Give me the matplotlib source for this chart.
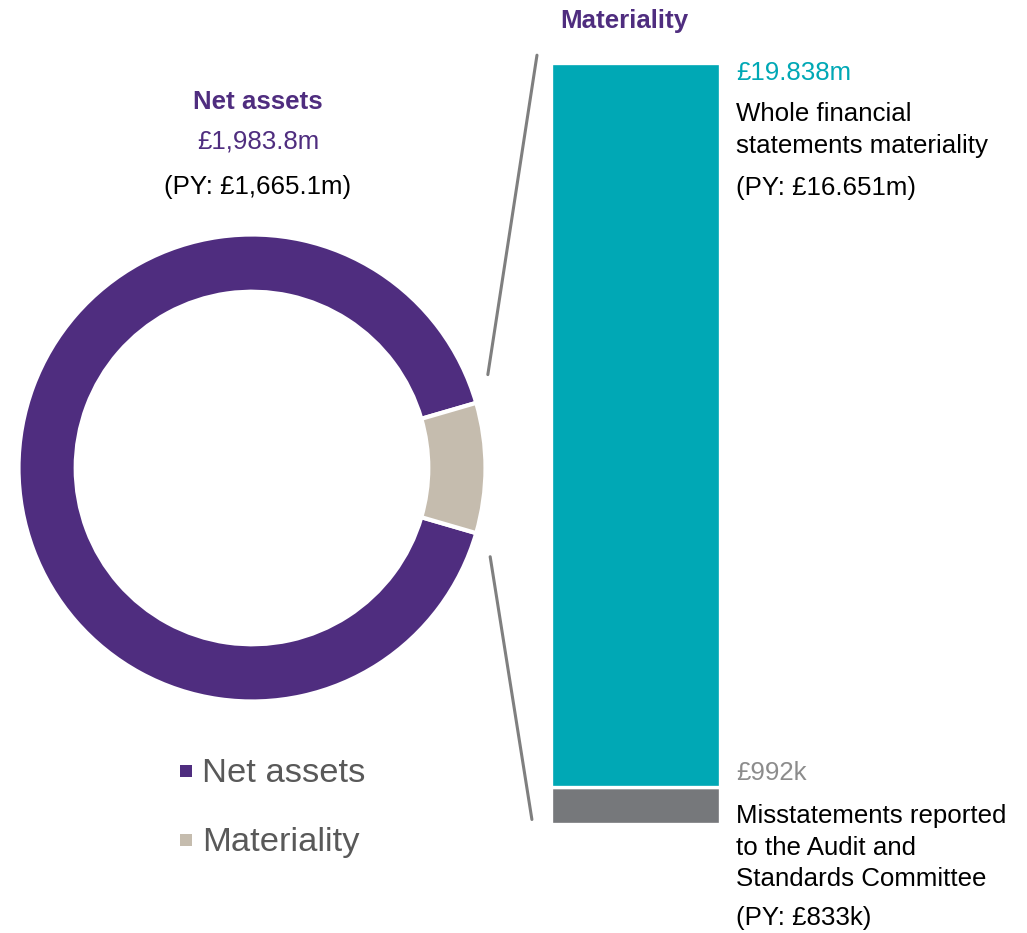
import matplotlib
matplotlib.use("Agg")
import matplotlib.pyplot as plt
from matplotlib.patches import ConnectionPatch, Rectangle

plt.rcParams['font.family'] = ['Liberation Sans', 'DejaVu Sans']

# ---- data ----
donut_labels = ["Net assets", "Materiality"]
donut_shares = [0.91, 0.09]          # visual share of the ring
bar_labels = ["Misstatements reported", "Whole financial statements materiality"]
bar_values = [0.992, 19.838]         # £m
net_assets_text = "£1,983.8m"
net_assets_py = "(PY: £1,665.1m)"
wfsm_text = "£19.838m"
wfsm_py = "(PY: £16.651m)"
mis_text = "£992k"
mis_py = "(PY: £833k)"

PURPLE = "#4F2D7F"
BEIGE = "#C5BCAE"
TEAL = "#00A8B5"
DGRAY = "#76787B"
LGRAY = "#7F7F7F"

W, H = 1027, 933
fig = plt.figure(figsize=(W / 100, H / 100), dpi=100)

def fx(px):
    return px / W

def fy(py):
    return 1 - py / H

# ---- donut ----
cx, cy, R = 252, 468, 233.5
axd = fig.add_axes([fx(cx - R), fy(cy + R), 2 * R / W, 2 * R / H])
axd.pie(donut_shares, colors=[PURPLE, BEIGE], startangle=16.2, counterclock=True,
        radius=1.0, wedgeprops=dict(width=0.245, edgecolor="white", linewidth=3))
axd.set_xlim(-1, 1)
axd.set_ylim(-1, 1)
axd.set_aspect("auto")
axd.axis("off")

# ---- stacked bar ----
bx0, bx1, by_bot, by_top = 550.5, 719.5, 823.5, 62.5
axb = fig.add_axes([fx(bx0), fy(by_bot), (bx1 - bx0) / W, (by_bot - by_top) / H])
total = sum(bar_values)
axb.bar([0], [bar_values[0]], width=1.0, color=DGRAY, edgecolor="white", linewidth=2.4)
axb.bar([0], [bar_values[1]], bottom=[bar_values[0]], width=1.0, color=TEAL,
        edgecolor="white", linewidth=2.4)
axb.set_xlim(-0.5, 0.5)
axb.set_ylim(0, total)
axb.axis("off")

# ---- connector lines ----
for xyA, xyB in [((1.01, 0.40), (-0.58, total + 0.2)),
                 ((1.02, -0.38), (-0.61, 0.11))]:
    con = ConnectionPatch(xyA=xyA, coordsA=axd.transData, xyB=xyB, coordsB=axb.transData,
                          color=LGRAY, linewidth=2.2)
    fig.add_artist(con)

# ---- texts: left ----
fs = 18.6
fst = 18.6
fig.text(fx(258), fy(102), "Net assets", color=PURPLE, fontsize=fst, fontweight="bold",
         ha="center", va="center")
fig.text(fx(258), fy(142), net_assets_text, color=PURPLE, fontsize=fs, ha="center", va="center")
fig.text(fx(258), fy(187), net_assets_py, color="black", fontsize=fs, ha="center", va="center")

# ---- texts: right ----
fig.text(fx(624), fy(21), "Materiality", color=PURPLE, fontsize=fst, fontweight="bold",
         ha="center", va="center")
tx = fx(736)
fig.text(tx, fy(73), wfsm_text, color=TEAL, fontsize=fs, ha="left", va="center")
fig.text(tx, fy(114), "Whole financial", color="black", fontsize=fs, ha="left", va="center")
fig.text(tx, fy(146), "statements materiality", color="black", fontsize=fs, ha="left", va="center")
fig.text(tx, fy(188), wfsm_py, color="black", fontsize=fs, ha="left", va="center")
fig.text(tx, fy(773), mis_text, color="#8C8C8C", fontsize=fs, ha="left", va="center")
fig.text(tx, fy(816), "Misstatements reported", color="black", fontsize=fs, ha="left", va="center")
fig.text(tx, fy(848), "to the Audit and", color="black", fontsize=fs, ha="left", va="center")
fig.text(tx, fy(879), "Standards Committee", color="black", fontsize=fs, ha="left", va="center")
fig.text(tx, fy(918), mis_py, color="black", fontsize=fs, ha="left", va="center")

# ---- legend ----
for (lab, col, ypx) in [(donut_labels[0], PURPLE, 771), (donut_labels[1], BEIGE, 840)]:
    s = 12
    fig.add_artist(Rectangle((fx(186 - s / 2), fy(ypx + s / 2)), s / W, s / H,
                             transform=fig.transFigure, color=col, linewidth=0))
    fig.text(fx(202), fy(ypx + 2), lab, color="#595959", fontsize=24.8, ha="left", va="center")

fig.savefig("out.png", dpi=100, facecolor="white")
